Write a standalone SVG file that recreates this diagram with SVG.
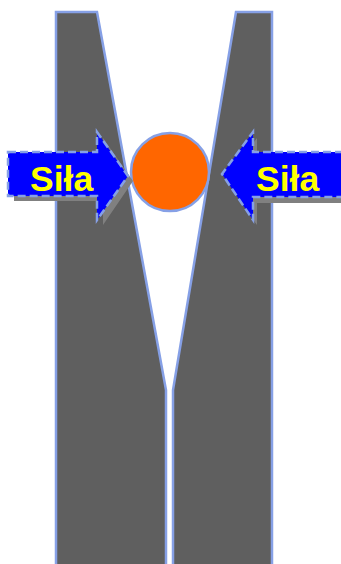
<svg xmlns="http://www.w3.org/2000/svg" width="341" height="564" viewBox="0 0 341 564">
<style>
.jaw{fill:#5f5f5f;stroke:#86a0e6;stroke-width:2.5;stroke-linejoin:miter}
.ball{fill:#ff6600;stroke:#86a0e6;stroke-width:2.5}
.arrow{fill:#0000ff;stroke:#86a0e6;stroke-width:2.5;stroke-dasharray:8,4}
.shadow{fill:#808080}
.lbl{font-family:"Liberation Sans",Arial,sans-serif;font-weight:bold;font-size:35.5px;fill:#ffff00}
</style>
<rect width="341" height="564" fill="#ffffff"/>
<g id="left-jaw"><path class="jaw" d="M56,12 L97,12 L166,390 L166,566 L56,566 Z"/></g>
<g id="right-jaw"><path class="jaw" d="M236,12 L272,12 L272,566 L173,566 L173,390 Z"/></g>
<g id="ball"><circle class="ball" cx="170" cy="172" r="39"/></g>
<g id="left-force">
<path class="shadow" d="M14,158 L103,158 L103,138 L133,181 L103,225 L103,201 L14,201 Z"/>
<path class="arrow" d="M8,152 L97,152 L97,132 L128,176 L97,220 L97,196 L8,196 Z"/>
<text class="lbl" x="30" y="191">Siła</text>
</g>
<g id="right-force">
<path class="shadow" d="M343,157 L257,157 L257,138 L226,180 L257,225 L257,203 L343,203 Z"/>
<path class="arrow" d="M343,152 L253,152 L253,132 L222,174 L253,220 L253,197 L343,197 Z"/>
<text class="lbl" x="256" y="191">Siła</text>
</g>
</svg>
